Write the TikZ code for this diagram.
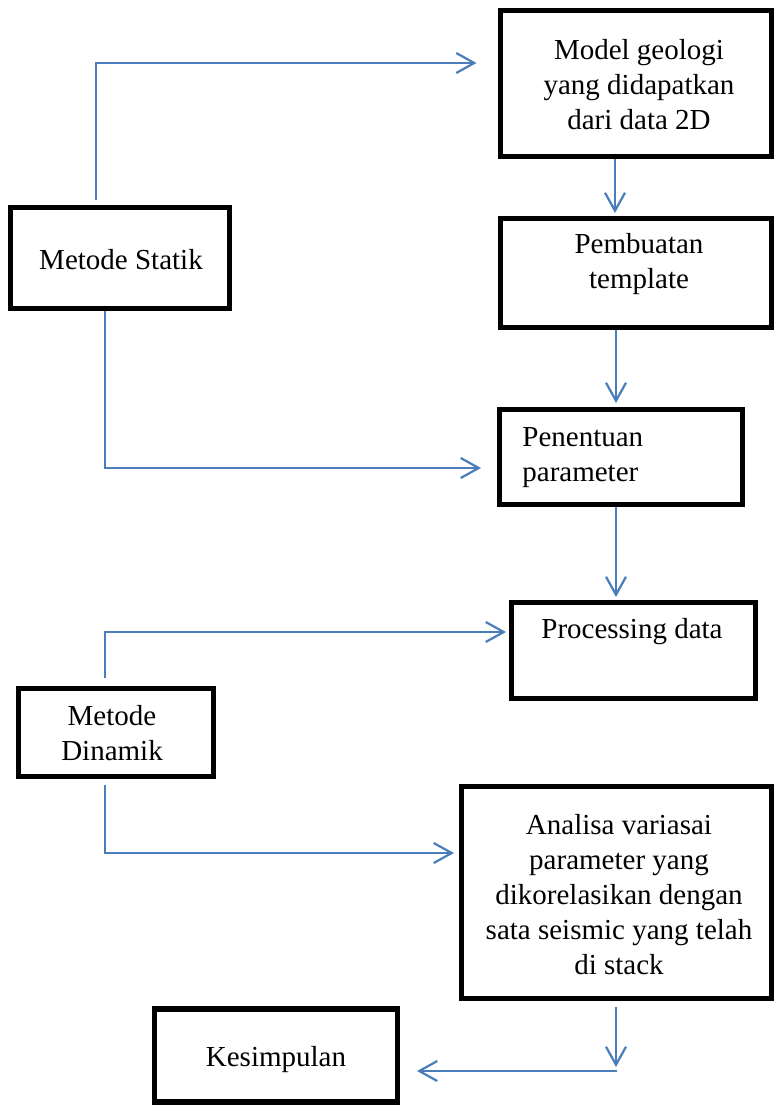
\documentclass[tikz,border=0pt]{standalone}
\usepackage{fontspec}
\setmainfont{Liberation Serif}
\usetikzlibrary{arrows.meta}
\definecolor{arrblue}{HTML}{4A7EBB}
\tikzset{
  box/.style={draw=black, line width=2.6pt, fill=white, inner sep=0pt, outer sep=0pt},
  txt/.style={inner sep=0pt, align=center, font=\fontsize{14.5pt}{17.5pt}\selectfont},
  arr/.style={draw=arrblue, line width=1.1pt, -{Straight Barb[length=9pt,width=10pt]}},
  ln/.style={draw=arrblue, line width=1.1pt}
}
\begin{document}
\begin{tikzpicture}[x=0.5pt,y=-0.5pt]
\useasboundingbox (0,0) rectangle (774,1105);
% boxes
\node[box, minimum width=135.5pt, minimum height=73pt] (A) at (636,83.5) {};
\node[box, minimum width=109.5pt, minimum height=50.5pt] (S) at (120,258) {};
\node[box, minimum width=135.5pt, minimum height=54.5pt] (P) at (636,273) {};
\node[box, minimum width=121.5pt, minimum height=47.5pt] (N) at (621,457) {};
\node[box, minimum width=122pt, minimum height=48pt] (R) at (633.5,650.5) {};
\node[box, minimum width=97.5pt, minimum height=44pt] (D) at (116,732.5) {};
\node[box, minimum width=155pt, minimum height=106pt] (V) at (616.5,892.5) {};
\node[box, minimum width=121.5pt, minimum height=46.5pt] (K) at (276,1055.5) {};
% texts
\node[txt] (At) at (639,85) {Model geologi\\yang didapatkan\\dari data 2D};
\node[txt] (St) at (121,260) {Metode Statik};
\node[txt] (Pt) at (639,264) {Pembuatan\\template};
\node[txt, align=left, anchor=west] (Nt) at (522,458) {Penentuan\\parameter};
\node[txt] (Rt) at (632,632) {Processing data};
\node[txt] (Dt) at (112,733) {Metode\\Dinamik};
\node[txt] (Vt) at (619,894.5) {Analisa variasai\\parameter yang\\dikorelasikan dengan\\sata seismic yang telah\\di stack};
\node[txt] (Kt) at (276,1060) {Kesimpulan};
% bend coordinates
\coordinate (s1) at (96,63);
\coordinate (x2) at (615,0);
\coordinate (x3) at (616,0);
\coordinate (s4) at (105,468);
\coordinate (s6) at (105,632);
\coordinate (s7) at (105,853);
\coordinate (e8) at (616,1067);
\coordinate (b8) at (617,1071);
% connectors
\draw[arr, shorten <=3.75pt, shorten >=12pt] (S.north -| s1) -- (s1) -- (A.west |- s1);
\draw[arr, shorten <=1.25pt, shorten >=2.75pt] (A.south -| x2) -- (P.north -| x2);
\draw[arr, shorten <=1.25pt, shorten >=3.25pt] (P.south -| x3) -- (N.north -| x3);
\draw[arr, shorten <=1.25pt, shorten >=9.25pt] (S.south -| s4) -- (s4) -- (N.west |- s4);
\draw[arr, shorten <=1.25pt, shorten >=2.75pt] (N.south -| x3) -- (R.north -| x3);
\draw[arr, shorten <=5.25pt, shorten >=2.75pt] (D.north -| s6) -- (s6) -- (R.west |- s6);
\draw[arr, shorten <=4.25pt, shorten >=3.75pt] (D.south -| s7) -- (s7) -- (V.west |- s7);
\draw[arr, shorten <=4.25pt] (V.south -| e8) -- (e8);
\draw[arr, shorten >=9.75pt] (b8) -- (K.east |- b8);
\end{tikzpicture}
\end{document}
